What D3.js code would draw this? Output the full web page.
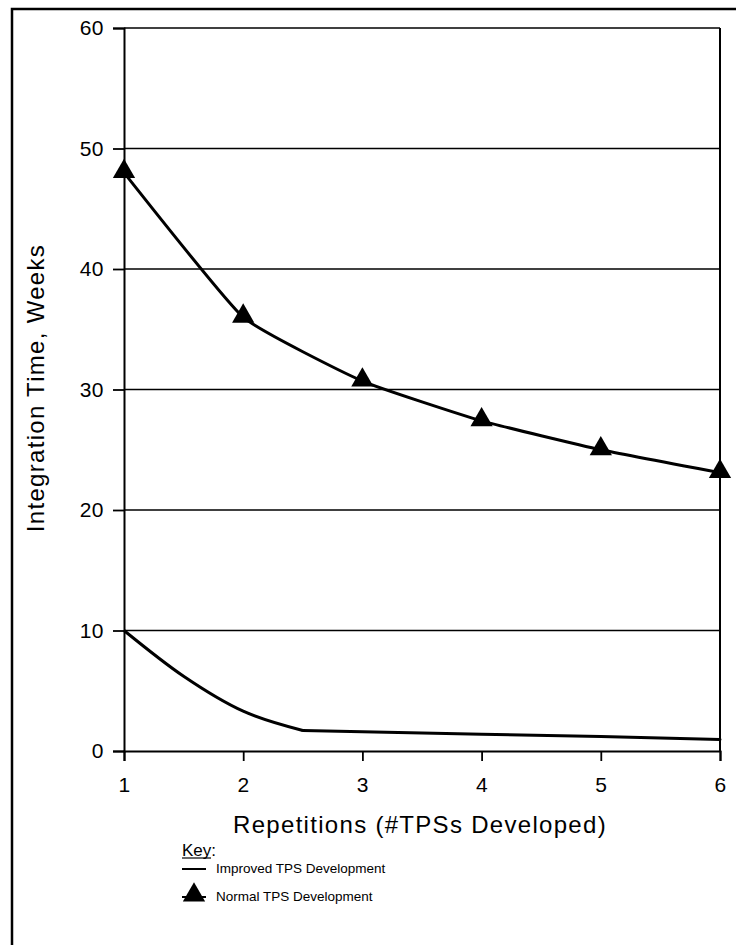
<!DOCTYPE html>
<html>
<head>
<meta charset="utf-8">
<script src="https://cdn.jsdelivr.net/npm/d3@7"></script>
<style>
  body { margin: 0; background: #fff; }
  svg { display: block; font-family: "Liberation Sans", Arial, sans-serif; }
</style>
</head>
<body>
<svg id="chart" width="736" height="945"></svg>
<script>
// chart values
var xTicks = [1, 2, 3, 4, 5, 6];
var yTicks = [0, 10, 20, 30, 40, 50, 60];
var normalX = [1, 2, 3, 4, 5, 6];
var normalY = [48.0, 36.0, 30.7, 27.4, 25.0, 23.1];
var improvedX = [1, 1.5, 2, 2.5, 3, 4, 5, 6];
var improvedY = [10, 6.2, 3.3, 1.7, 1.6, 1.4, 1.2, 0.95];
var improvedBreak = 2.5; // curve ends here, straight tail after
var xTitle = 'Repetitions (#TPSs Developed)';
var yTitle = 'Integration Time, Weeks';
var keyTitle = 'Key';
var seriesNames = ['Improved TPS Development', 'Normal TPS Development'];

var plotLeft = 124, plotRight = 720, plotTop = 28, plotBottom = 751;

var svg = d3.select('#chart');

// outer frame (cut off at the right and bottom edges)
svg.append('rect')
    .attr('x', 12).attr('y', 9)
    .attr('width', 760).attr('height', 980)
    .attr('fill', 'none').attr('stroke', '#000').attr('stroke-width', 2.5);

var x = d3.scaleLinear().domain([1, 6]).range([plotLeft, plotRight]);
var y = d3.scaleLinear().domain([0, 60]).range([plotBottom, plotTop]);

// grid lines
svg.append('g')
    .selectAll('line')
    .data(yTicks.filter(function(d) { return d > 0; }))
    .join('line')
    .attr('x1', plotLeft).attr('x2', plotRight)
    .attr('y1', function(d) { return y(d); })
    .attr('y2', function(d) { return y(d); })
    .attr('stroke', '#000').attr('stroke-width', 1.6);

// right border of the plot
svg.append('line')
    .attr('x1', plotRight).attr('x2', plotRight)
    .attr('y1', plotTop).attr('y2', plotBottom)
    .attr('stroke', '#000').attr('stroke-width', 2);

var yAxis = svg.append('g')
    .attr('transform', 'translate(' + plotLeft + ',0)')
    .call(d3.axisLeft(y).tickValues(yTicks).tickFormat(d3.format('d')).tickSize(11).tickPadding(9));

var xAxis = svg.append('g')
    .attr('transform', 'translate(0,' + plotBottom + ')')
    .call(d3.axisBottom(x).tickValues(xTicks).tickFormat(d3.format('d')).tickSize(10).tickPadding(16));

[yAxis, xAxis].forEach(function(a) {
    a.select('.domain').attr('stroke', '#000').attr('stroke-width', 2);
    a.selectAll('.tick line').attr('stroke', '#000').attr('stroke-width', 1.8);
    a.selectAll('.tick text')
        .attr('fill', '#000')
        .style('font-size', '21px')
        .style('letter-spacing', '0.5px')
        .style('font-family', '"Liberation Sans", Arial, sans-serif');
});

// axis titles
svg.append('text')
    .attr('x', 420).attr('y', 833)
    .attr('text-anchor', 'middle')
    .style('font-size', '24px')
    .style('letter-spacing', '1.3px')
    .text(xTitle);

svg.append('text')
    .attr('transform', 'translate(44,388) rotate(-90)')
    .attr('text-anchor', 'middle')
    .style('font-size', '24px')
    .style('letter-spacing', '1.3px')
    .text(yTitle);

// series
var line = d3.line()
    .x(function(d) { return x(d[0]); })
    .y(function(d) { return y(d[1]); });

var improved = improvedX.map(function(d, i) { return [d, improvedY[i]]; });
var normal = normalX.map(function(d, i) { return [d, normalY[i]]; });

svg.append('path')
    .datum(improved.filter(function(d) { return d[0] <= improvedBreak; }))
    .attr('d', line.curve(d3.curveMonotoneX))
    .attr('fill', 'none').attr('stroke', '#000').attr('stroke-width', 3);

svg.append('path')
    .datum(improved.filter(function(d) { return d[0] >= improvedBreak; }))
    .attr('d', line.curve(d3.curveLinear))
    .attr('fill', 'none').attr('stroke', '#000').attr('stroke-width', 3)
    .attr('stroke-linecap', 'round');

svg.append('path')
    .datum(normal)
    .attr('d', line.curve(d3.curveCardinal.tension(0.6)))
    .attr('fill', 'none').attr('stroke', '#000').attr('stroke-width', 3);

var tri = d3.symbol().type(d3.symbolTriangle).size(215);

svg.append('g')
    .selectAll('path')
    .data(normal)
    .join('path')
    .attr('transform', function(d) { return 'translate(' + x(d[0]) + ',' + (y(d[1]) - 1) + ')'; })
    .attr('d', tri)
    .attr('fill', '#000');

// key
var key = svg.append('g');
key.append('text')
    .attr('x', 182).attr('y', 856)
    .style('font-size', '17px')
    .text(keyTitle + ':');
key.append('line')
    .attr('x1', 182).attr('x2', 211)
    .attr('y1', 858).attr('y2', 858)
    .attr('stroke', '#000').attr('stroke-width', 1.2);

key.append('line')
    .attr('x1', 182).attr('x2', 206)
    .attr('y1', 869).attr('y2', 869)
    .attr('stroke', '#000').attr('stroke-width', 2);
key.append('line')
    .attr('x1', 182).attr('x2', 206)
    .attr('y1', 897).attr('y2', 897)
    .attr('stroke', '#000').attr('stroke-width', 2);
key.append('path')
    .attr('transform', 'translate(194,895)')
    .attr('d', tri)
    .attr('fill', '#000');

key.selectAll('text.item')
    .data(seriesNames)
    .join('text')
    .attr('class', 'item')
    .attr('x', 216)
    .attr('y', function(d, i) { return 873 + i * 28; })
    .style('font-size', '13.5px')
    .text(function(d) { return d; });
</script>
</body>
</html>
